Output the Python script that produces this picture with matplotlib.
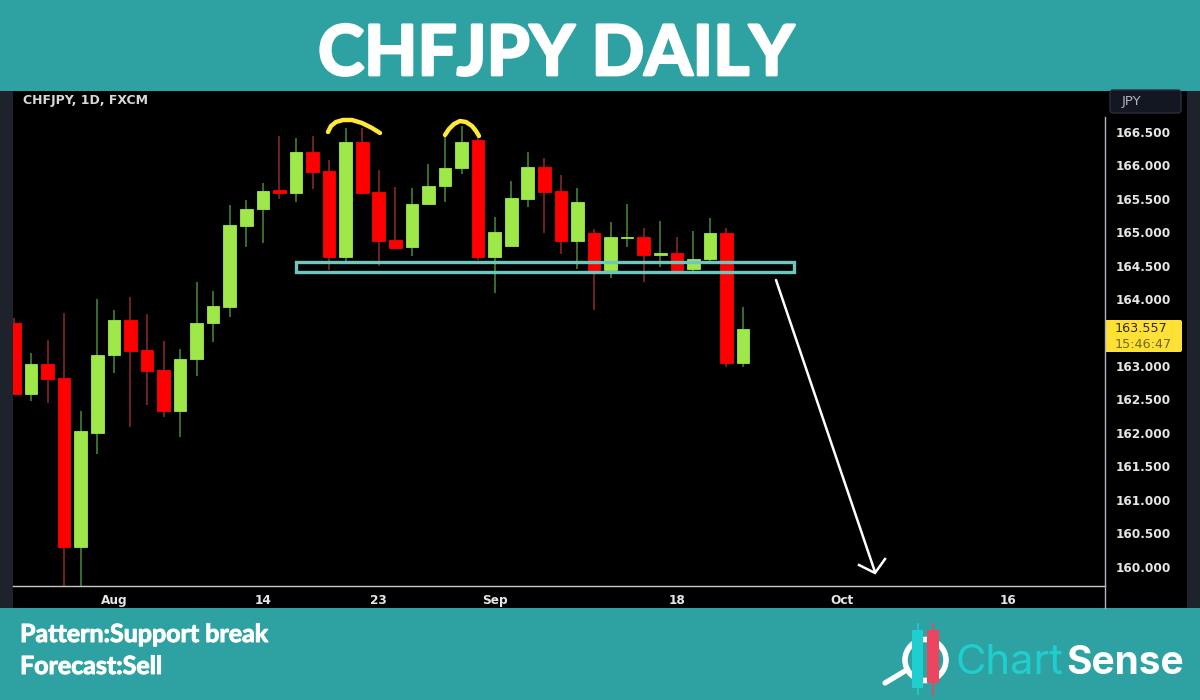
import matplotlib
matplotlib.use("Agg")
import matplotlib.pyplot as plt
import matplotlib.patheffects as pe
from matplotlib.patches import Rectangle, FancyBboxPatch, Circle

TITLE = "CHFJPY DAILY"
SYMBOL = "CHFJPY, 1D, FXCM"
opens = [163.64,162.58,163.03,162.82,160.30,162.00,163.17,163.69,163.24,162.94,162.33,163.11,163.64,163.88,165.09,165.35,165.63,165.59,166.20,165.92,164.63,166.35,165.60,164.89,164.78,165.42,165.69,165.96,166.37,164.63,164.80,165.50,165.98,165.62,164.87,164.98,164.44,164.91,164.92,164.66,164.69,164.45,164.60,164.99,163.05]
highs = [163.72,163.20,163.39,163.79,162.33,164.00,163.84,164.03,163.78,163.38,163.26,164.26,164.12,165.41,165.48,165.74,166.44,166.41,166.43,166.08,166.56,166.56,165.93,165.68,165.66,166.02,166.43,166.59,166.43,165.23,165.77,166.20,166.11,165.86,165.66,165.05,165.15,165.42,165.06,165.17,164.92,165.02,165.21,165.06,163.88]
lows = [162.58,162.48,162.45,159.50,159.50,161.69,162.90,162.09,162.42,162.24,161.94,162.85,163.36,163.73,164.78,164.84,165.50,165.45,165.65,164.44,164.54,165.59,164.50,164.77,164.65,165.42,165.45,165.87,164.59,164.09,164.80,165.38,164.99,164.68,164.45,163.84,164.32,164.78,164.26,164.48,164.39,164.41,164.54,162.99,162.99]
closes = [162.58,163.03,162.81,160.30,162.02,163.17,163.69,163.23,162.93,162.33,163.11,163.64,163.90,165.11,165.35,165.62,165.59,166.20,165.90,164.63,166.35,165.59,164.87,164.77,165.42,165.69,165.96,166.35,164.63,165.00,165.51,165.98,165.60,164.87,165.45,164.42,164.92,164.92,164.66,164.69,164.44,164.60,164.98,163.05,163.557]
price_ticks = [160.0,160.5,161.0,161.5,162.0,162.5,163.0,164.0,164.5,165.0,165.5,166.0,166.5]
price_tick_labels = ["160.000","160.500","161.000","161.500","162.000","162.500","163.000","164.000","164.500","165.000","165.500","166.000","166.500"]
date_positions = [6,15,22,29,40,50,60]
date_labels = ["Aug","14","23","Sep","18","Oct","16"]
PRICE_TAG = "163.557"
COUNTDOWN = "15:46:47"
SUPPORT_LOW, SUPPORT_HIGH = 164.41, 164.55
SUPPORT_X = (17.0, 47.1)

TEAL = "#2ea2a2"; UP = "#9ee84a"; DOWN = "#ff0000"
UP_W = "#4c8a3c"; DOWN_W = "#8e2a2a"; STRIP = "#1e222d"; AXIS = "#b2b5be"
W, H = 1200, 700
plt.rcParams['font.family'] = ['Lato', 'DejaVu Sans']
fig = plt.figure(figsize=(12, 7), dpi=100, facecolor=TEAL)

def px_axes(z):
    a = fig.add_axes([0, 0, 1, 1], zorder=z)
    a.set_xlim(0, W); a.set_ylim(H, 0); a.axis('off'); a.patch.set_alpha(0)
    return a

bg = px_axes(0)
bg.add_patch(Rectangle((0, 91), 1200, 517, fc='black', ec='none'))
bg.add_patch(Rectangle((0, 91), 13, 517, fc=STRIP, ec='none'))
bg.add_patch(Rectangle((1187, 91), 13, 517, fc=STRIP, ec='none'))

L, R, T, B = 13, 1105, 91, 586
ax = fig.add_axes([L/W, 1-B/H, (R-L)/W, (B-T)/H], zorder=1, facecolor='black')
ax.set_xlim(-0.09, 65.86)
ax.set_ylim(159.71, 167.11)
for s in ax.spines.values():
    s.set_visible(False)
for i in range(len(opens)):
    up = closes[i] >= opens[i]
    ax.vlines(i, lows[i], highs[i], color=UP_W if up else DOWN_W, lw=1.1, zorder=2)
    bottom = min(opens[i], closes[i]); height = abs(closes[i]-opens[i])
    ax.bar(i, height, bottom=bottom, width=0.76, color=UP if up else DOWN,
           edgecolor=UP if up else DOWN, lw=0.6, zorder=3)
ax.add_patch(Rectangle((SUPPORT_X[0], SUPPORT_LOW), SUPPORT_X[1]-SUPPORT_X[0], SUPPORT_HIGH-SUPPORT_LOW,
                       fc='none', ec='#6fc6be', lw=2.4, zorder=4))
ax.yaxis.tick_right()
ax.set_yticks(price_ticks); ax.set_yticklabels(price_tick_labels, family='DejaVu Sans', fontsize=8.7, fontweight='bold', color='#e6e6e6')
ax.set_xticks(date_positions); ax.set_xticklabels(date_labels, family='DejaVu Sans', fontsize=8.7, fontweight='bold', color='#e6e6e6')
ax.tick_params(axis='y', length=0, pad=7.5)
ax.tick_params(axis='x', length=0, pad=6)

ov = px_axes(2)
ov.plot([13, 1105], [586, 586], color='#c8c8c8', lw=1)
ov.plot([1105, 1105], [117, 608], color=AXIS, lw=1)
ov.text(23, 100.5, SYMBOL, color='#d8d8d8', fontsize=9, family='DejaVu Sans', fontweight='bold', va='center', ha='left')

ov.add_patch(FancyBboxPatch((1110, 90), 71, 23, boxstyle="round,pad=0,rounding_size=3", fc='#131722', ec='#2a2e39', lw=1))
ov.text(1122, 101, "JPY", color='#b2b5be', fontsize=9.5, family='DejaVu Sans', va='center', ha='left')

ov.add_patch(FancyBboxPatch((1105, 320), 77, 32, boxstyle="round,pad=0,rounding_size=2", fc='#ffe135', ec='none'))
ov.text(1115, 329, PRICE_TAG, color='#2a2a20', fontsize=9.2, family='DejaVu Sans', va='center', ha='left')
ov.text(1115, 344, COUNTDOWN, color='#6f6a20', fontsize=9.2, family='DejaVu Sans', va='center', ha='left')

YEL = "#ffe83a"
ov.plot([328,331,336,343,352,362,372,380],[132,126,122,120,120,123,128,133], color=YEL, lw=3.2, solid_capstyle='round')
ov.plot([445,449,454,460,466,472,476,479],[135,129,124,121,122,126,131,136], color=YEL, lw=3.2, solid_capstyle='round')
ov.plot([776,875],[280,572], color='white', lw=1.8, solid_capstyle='round')
ov.plot([859,875,885],[565,573,559], color='white', lw=1.8, solid_joinstyle='miter')

heavy = [pe.withStroke(linewidth=2.0, foreground='white')]
light_heavy = [pe.withStroke(linewidth=0.7, foreground='white')]
ov.text(556.5, 75, TITLE, color='white', fontsize=50, fontweight='bold', ha='center', va='baseline', path_effects=heavy)
ov.text(20, 642, "Pattern:Support break", color='white', fontsize=18, fontweight='bold', va='baseline', path_effects=light_heavy)
ov.text(20, 674, "Forecast:Sell", color='white', fontsize=18, fontweight='bold', va='baseline', path_effects=light_heavy)

ov.add_patch(Circle((925.5, 660), 20.5, fc='none', ec='white', lw=4))
ov.plot([885, 905], [683, 671], color='white', lw=3.8, solid_capstyle='round')
ov.plot([917.5, 917.5], [624, 694], color='#1fcfcf', lw=1.2)
ov.plot([933, 933], [624, 695], color='#ec4560', lw=1.2)
ov.add_patch(Rectangle((912, 630), 11, 58, fc='#1fcfcf', ec='none', zorder=5))
ov.add_patch(Rectangle((927, 630), 12, 53, fc='#ec4560', ec='none', zorder=5))
ov.text(956, 674, "Chart", color='#1fcfcf', fontsize=30, family='Inter', va='baseline')
ov.text(1066, 674, "Sense", color='white', fontsize=28, family='Inter', fontweight='bold', va='baseline')

fig.savefig("out.png", dpi=100, facecolor=fig.get_facecolor())
